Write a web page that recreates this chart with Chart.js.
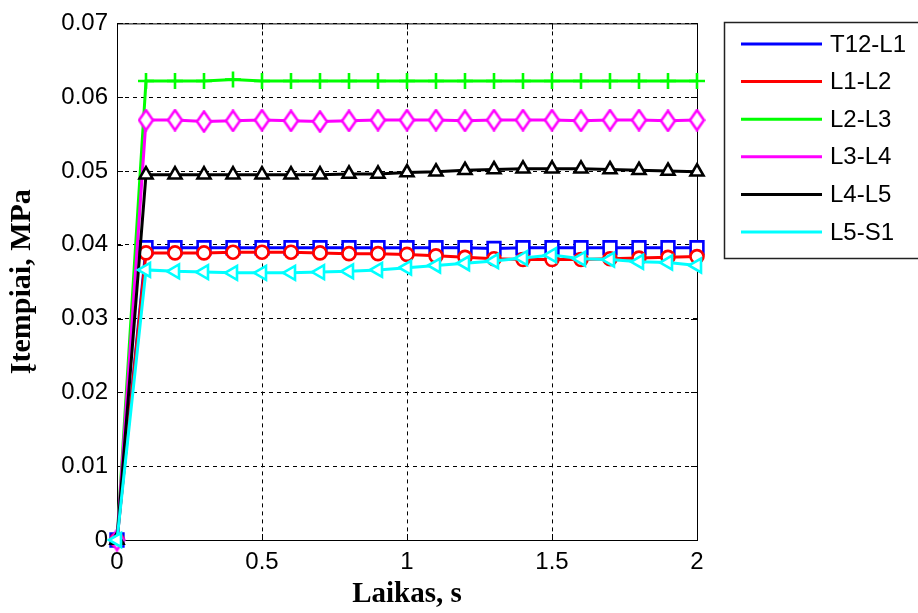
<!DOCTYPE html>
<html>
<head>
<meta charset="utf-8">
<script src="https://cdn.jsdelivr.net/npm/chart.js@4.4.1/dist/chart.umd.min.js"></script>
<style>
  html, body { margin: 0; padding: 0; background: #fff; }
  canvas { display: block; }
</style>
</head>
<body>
<canvas id="chart" width="918" height="613"></canvas>
<script>
// Data (stress vs time)
const times = [0, 0.1, 0.2, 0.3, 0.4, 0.5, 0.6, 0.7, 0.8, 0.9, 1.0,
               1.1, 1.2, 1.3, 1.4, 1.5, 1.6, 1.7, 1.8, 1.9, 2.0];

const t12L1 = [0, 0.0396, 0.0396, 0.0396, 0.0396, 0.0396, 0.0396, 0.0396, 0.0396, 0.0396, 0.0396,
               0.0396, 0.0396, 0.0395, 0.0396, 0.0396, 0.0396, 0.0396, 0.0396, 0.0396, 0.0396];
const l1L2  = [0, 0.0389, 0.0389, 0.0389, 0.0390, 0.0390, 0.0390, 0.0389, 0.0388, 0.0388, 0.0387,
               0.0385, 0.0383, 0.0381, 0.0380, 0.0380, 0.0380, 0.0381, 0.0382, 0.0383, 0.0384];
const l2L3  = [0, 0.0622, 0.0622, 0.0622, 0.0624, 0.0622, 0.0622, 0.0622, 0.0622, 0.0622, 0.0622,
               0.0622, 0.0622, 0.0622, 0.0622, 0.0622, 0.0622, 0.0622, 0.0622, 0.0622, 0.0622];
const l3L4  = [0, 0.0569, 0.0569, 0.0567, 0.0568, 0.0569, 0.0568, 0.0567, 0.0568, 0.0569, 0.0569,
               0.0569, 0.0568, 0.0569, 0.0569, 0.0569, 0.0568, 0.0569, 0.0569, 0.0568, 0.0569];
const l4L5  = [0, 0.0495, 0.0495, 0.0495, 0.0495, 0.0495, 0.0495, 0.0495, 0.0496, 0.0496, 0.0498,
               0.0499, 0.0501, 0.0502, 0.0503, 0.0503, 0.0503, 0.0502, 0.0501, 0.0500, 0.0499];
const l5S1  = [0, 0.0366, 0.0364, 0.0363, 0.0362, 0.0362, 0.0362, 0.0363, 0.0364, 0.0366, 0.0369,
               0.0372, 0.0375, 0.0378, 0.0382, 0.0386, 0.0381, 0.0380, 0.0377, 0.0376, 0.0372];

const seriesNames = ["T12-L1", "L1-L2", "L2-L3", "L3-L4", "L4-L5", "L5-S1"];
const seriesValues = [t12L1, l1L2, l2L3, l3L4, l4L5, l5S1];
const colors = ["#0000ff", "#ff0000", "#00ff00", "#ff00ff", "#000000", "#00ffff"];

const xTicks = [0, 0.5, 1, 1.5, 2];
const yMax = 0.07;

// tall diamond marker (MATLAB style)
function diamond(color) {
  const c = document.createElement("canvas");
  c.width = 17; c.height = 23;
  const g = c.getContext("2d");
  g.beginPath();
  g.moveTo(8.5, 1.5); g.lineTo(15.5, 11.5); g.lineTo(8.5, 21.5); g.lineTo(1.5, 11.5); g.closePath();
  g.fillStyle = "#fff"; g.fill();
  g.lineWidth = 2.6; g.strokeStyle = color; g.stroke();
  return c;
}

const markers = [
  { pointStyle: "rect", pointRadius: 9 },
  { pointStyle: "circle", pointRadius: 6.5 },
  { pointStyle: "cross", pointRadius: 8 },
  { pointStyle: diamond(colors[3]), pointRadius: 8 },
  { pointStyle: "triangle", pointRadius: 7.5 },
  { pointStyle: "triangle", pointRadius: 8, pointRotation: -90 }
];

const datasets = seriesNames.map((name, i) => Object.assign({
  label: name,
  data: times.map((t, j) => ({ x: t, y: seriesValues[i][j] })),
  borderColor: colors[i],
  backgroundColor: "#fff",
  pointBorderColor: colors[i],
  pointBackgroundColor: "#fff",
  pointBorderWidth: 2.6,
  borderWidth: 3,
  tension: 0,
  clip: false,
  order: 5 - i
}, markers[i]));

// axes box, inward ticks, legend
const frame = {
  id: "frame",
  beforeDatasetsDraw(chart) {
    const { ctx, chartArea: a, scales } = chart;
    ctx.save();
    ctx.strokeStyle = "#000";
    ctx.lineWidth = 1;
    ctx.strokeRect(a.left + 0.5, a.top + 0.5, a.right - a.left, a.bottom - a.top);
    ctx.beginPath();
    scales.x.ticks.forEach(t => {
      const x = Math.round(scales.x.getPixelForValue(t.value)) + 0.5;
      ctx.moveTo(x, a.bottom); ctx.lineTo(x, a.bottom - 6);
      ctx.moveTo(x, a.top); ctx.lineTo(x, a.top + 6);
    });
    scales.y.ticks.forEach(t => {
      const y = Math.round(scales.y.getPixelForValue(t.value)) + 0.5;
      ctx.moveTo(a.left, y); ctx.lineTo(a.left + 6, y);
      ctx.moveTo(a.right, y); ctx.lineTo(a.right - 6, y);
    });
    ctx.stroke();
    ctx.restore();
  },
  afterDraw(chart) {
    const ctx = chart.ctx;
    ctx.save();
    ctx.strokeStyle = "#222";
    ctx.lineWidth = 1.5;
    ctx.strokeRect(724.5, 22.5, 210, 236);
    ctx.font = "24px 'Liberation Sans', Arial, sans-serif";
    ctx.textBaseline = "middle";
    chart.data.datasets.forEach((ds, i) => {
      const y = 44 + i * 37.6;
      ctx.strokeStyle = ds.borderColor;
      ctx.lineWidth = 3;
      ctx.beginPath();
      ctx.moveTo(741, y); ctx.lineTo(822, y);
      ctx.stroke();
      ctx.fillStyle = "#000";
      ctx.fillText(ds.label, 830, y + 1);
    });
    ctx.restore();
  }
};

new Chart(document.getElementById("chart"), {
  type: "line",
  data: { datasets: datasets },
  plugins: [frame],
  options: {
    responsive: false,
    animation: false,
    devicePixelRatio: 1,
    layout: { padding: { top: 22, right: 221, left: 0, bottom: 0 } },
    plugins: { legend: { display: false }, tooltip: { enabled: false } },
    scales: {
      x: {
        type: "linear",
        min: 0, max: 2,
        afterBuildTicks: s => { s.ticks = xTicks.map(v => ({ value: v })); },
        afterFit: s => { s.height = 73; },
        ticks: {
          padding: 8, color: "#000", font: { family: "'Liberation Sans', Arial", size: 24 },
          callback: v => String(v)
        },
        grid: { color: "#000", lineWidth: 1, drawTicks: false },
        border: { display: false, dash: [4, 4] },
        title: {
          display: true, text: "Laikas, s", color: "#000",
          font: { family: "'Liberation Serif', 'Times New Roman'", weight: "bold", size: 29 },
          padding: { top: 1, bottom: 1 }
        }
      },
      y: {
        min: 0, max: yMax,
        afterFit: s => { s.width = 117; },
        ticks: { stepSize: 0.01, padding: 9, color: "#000", font: { family: "'Liberation Sans', Arial", size: 24 } },
        grid: { color: "#000", lineWidth: 1, drawTicks: false },
        border: { display: false, dash: [4, 4] },
        title: {
          display: true, text: "Įtempiai, MPa", color: "#000",
          font: { family: "'Liberation Serif', 'Times New Roman'", weight: "bold", size: 30 },
          padding: { top: 4, bottom: 4 }
        }
      }
    }
  }
});
</script>
</body>
</html>
